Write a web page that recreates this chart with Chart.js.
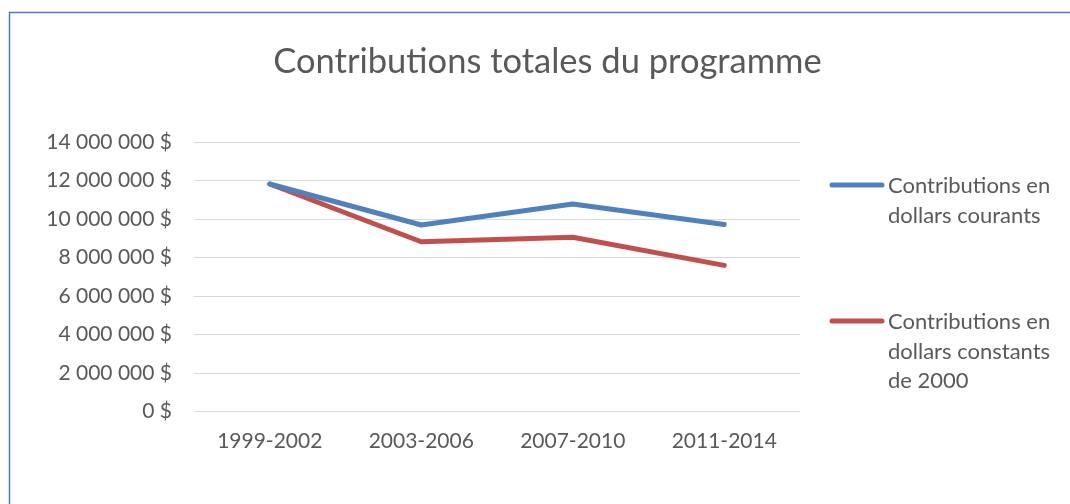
<!DOCTYPE html>
<html>
<head>
<meta charset="utf-8">
<script src="https://cdn.jsdelivr.net/npm/chart.js@4"></script>
<style>
html,body{margin:0;padding:0;background:#fff;}
#wrap{width:1070px;height:504px;position:relative;}
</style>
</head>
<body>
<div id="wrap"><canvas id="c" width="1070" height="504"></canvas></div>
<script>
const categories = ['1999-2002', '2003-2006', '2007-2010', '2011-2014'];
const seriesNames = ['Contributions en dollars courants', 'Contributions en dollars constants de 2000'];
const currentDollars = [11830000, 9700000, 10790000, 9730000];
const constantDollars = [11830000, 8830000, 9060000, 7600000];
const yTicks = [0, 2000000, 4000000, 6000000, 8000000, 10000000, 12000000, 14000000];
const colors = ['#4f81bd', '#c0504d'];
const FONT = 'Lato, "Open Sans", sans-serif';
const TEXT = '#595959';

function fmt(v) {
  return String(v).replace(/\B(?=(\d{3})+(?!\d))/g, ' ') + ' $';
}

const framePlugin = {
  id: 'frame',
  beforeDraw(chart) {
    const ctx = chart.ctx;
    ctx.save();
    ctx.fillStyle = '#fff';
    ctx.fillRect(0, 0, chart.width, chart.height);
    ctx.strokeStyle = '#4a7ebb';
    ctx.lineWidth = 1.5;
    ctx.beginPath();
    ctx.moveTo(9.5, chart.height);
    ctx.lineTo(9.5, 12.5);
    ctx.lineTo(chart.width, 12.5);
    ctx.stroke();
    ctx.restore();
  }
};

function wrap(ctx, text, maxW) {
  const words = text.split(' ');
  const lines = [];
  let cur = '';
  for (const w of words) {
    const t = cur ? cur + ' ' + w : w;
    if (ctx.measureText(t).width > maxW && cur) { lines.push(cur); cur = w; }
    else cur = t;
  }
  if (cur) lines.push(cur);
  return lines;
}

const legendPlugin = {
  id: 'sideLegend',
  afterDraw(chart) {
    const ctx = chart.ctx;
    ctx.save();
    ctx.font = '22px ' + FONT;
    ctx.textBaseline = 'middle';
    ctx.textAlign = 'left';
    const tops = [185, 321];
    chart.data.datasets.forEach((ds, i) => {
      const y = tops[i];
      ctx.strokeStyle = ds.borderColor;
      ctx.lineWidth = 5;
      ctx.lineCap = 'round';
      ctx.beginPath();
      ctx.moveTo(832, y);
      ctx.lineTo(882, y);
      ctx.stroke();
      ctx.fillStyle = TEXT;
      const lines = wrap(ctx, ds.label, 172);
      lines.forEach((ln, k) => ctx.fillText(ln, 888, y + 1 + k * 29.5));
    });
    ctx.restore();
  }
};

new Chart(document.getElementById('c'), {
  type: 'line',
  data: {
    labels: categories,
    datasets: [
      { label: seriesNames[0], data: currentDollars, borderColor: colors[0], backgroundColor: colors[0] },
      { label: seriesNames[1], data: constantDollars, borderColor: colors[1], backgroundColor: colors[1] }
    ]
  },
  options: {
    responsive: false,
    animation: false,
    devicePixelRatio: 1,
    layout: { padding: { top: 41.4, right: 0, bottom: 0, left: 25 } },
    elements: {
      line: { borderWidth: 5, tension: 0, borderCapStyle: 'round', borderJoinStyle: 'round' },
      point: { radius: 0, hoverRadius: 0 }
    },
    plugins: {
      legend: { display: false },
      tooltip: { enabled: false },
      title: {
        display: true,
        text: 'Contributions totales du programme',
        color: TEXT,
        font: { family: FONT, size: 34.5, weight: 'normal', lineHeight: 1.2 },
        padding: { top: 0, bottom: 59.4 }
      }
    },
    scales: {
      x: {
        offset: true,
        grid: { display: false, drawTicks: false },
        border: { display: false },
        ticks: { color: TEXT, font: { family: FONT, size: 21 }, padding: 17, maxRotation: 0 },
        afterFit(s) { s.height = 92.3; }
      },
      y: {
        min: 0,
        max: 14000000,
        afterBuildTicks(s) { s.ticks = yTicks.map(v => ({ value: v })); },
        grid: { color: '#d9d9d9', lineWidth: 1, drawTicks: false },
        border: { display: false },
        ticks: { color: TEXT, font: { family: FONT, size: 21 }, padding: 22, callback: v => fmt(v) },
        afterFit(s) { s.width = 169; }
      },
      legendSpace: {
        position: 'right',
        display: true,
        grid: { display: false, drawTicks: false },
        border: { display: false },
        ticks: { display: false },
        afterFit(s) { s.width = 270; }
      }
    }
  },
  plugins: [framePlugin, legendPlugin]
});
</script>
</body>
</html>
